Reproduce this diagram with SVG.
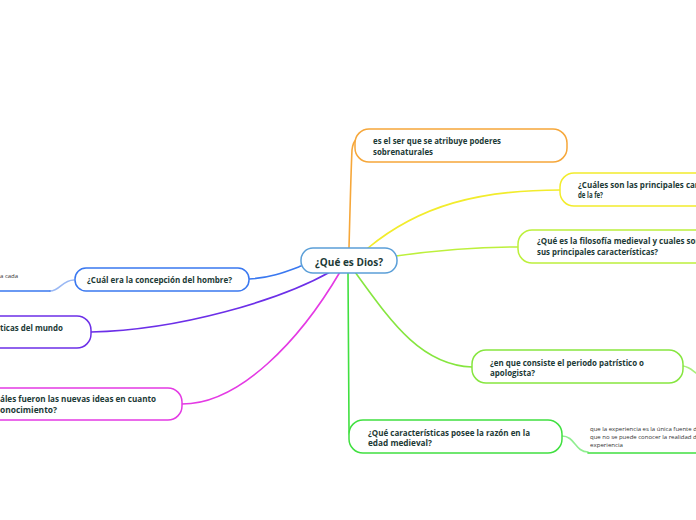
<svg xmlns="http://www.w3.org/2000/svg" width="696" height="520" viewBox="0 0 696 520">
<style>
.t{font-family:"Open Sans","Noto Sans","Liberation Sans",sans-serif;font-weight:700;fill:#1c3a36;font-size:8px}
.m{font-size:11px;font-weight:700}
.s{font-family:"Open Sans","Noto Sans","Liberation Sans",sans-serif;font-size:6px;fill:#333}
.n{fill:#fff;stroke-width:1.5}
.c{fill:none;stroke-width:1.6;stroke-linecap:round}
</style>
<rect width="696" height="520" fill="#fff"/>
<g id="connectors">
<path class="c" stroke="#f6a73a" d="M349,248 C350,210 351,170 352,150 Q353,142 356,140"/>
<path class="c" stroke="#f2ec2c" d="M368,248 C420,205 480,190 560,190"/>
<path class="c" stroke="#bdf03c" d="M396,256 C440,250 480,247 518,247"/>
<path class="c" stroke="#86e63f" d="M355,272 C390,320 420,365 472,367"/>
<path class="c" stroke="#a8f07a" d="M683,366 C690,367 693,371 696,373"/>
<path class="c" stroke="#40e040" d="M348,272 L349,428 Q349,436 351,438"/>
<path class="c" stroke="#90ee90" d="M562,436 C575,436 575,452 588,452"/>
<path class="c" stroke="#40e040" stroke-width="2" d="M588,453 L696,453"/>
<path class="c" stroke="#3a78f0" d="M301,266 C285,272 270,278 249,279"/>
<path class="c" stroke="#9ab8f4" d="M74,280 C62,280 60,291 50,291"/>
<path class="c" stroke="#3a78f0" stroke-width="2" d="M50,291 L0,291"/>
<path class="c" stroke="#6c2fe8" d="M330,272 C280,300 180,330 91,332"/>
<path class="c" stroke="#e43ae4" d="M340,272 C300,340 240,404 182,404"/>
</g>
<g id="n0">
<rect class="n" stroke="#5b9fd8" x="301" y="248" width="96" height="25" rx="12"/>
<text class="t m" x="315" y="266" textLength="68" lengthAdjust="spacingAndGlyphs">¿Qué es Dios?</text>
</g>
<g id="n1">
<rect class="n" stroke="#f6a73a" x="355" y="129" width="212" height="33" rx="14"/>
<text class="t" x="373" y="144" textLength="128" lengthAdjust="spacingAndGlyphs">es el ser que se atribuye poderes</text>
<text class="t" x="373" y="155" textLength="60" lengthAdjust="spacingAndGlyphs">sobrenaturales</text>
</g>
<g id="n2">
<rect class="n" stroke="#f2ec2c" x="560" y="173" width="160" height="33" rx="14"/>
<text class="t" x="578" y="188">¿Cuáles son las principales car</text>
<text class="t" x="578" y="198" textLength="25" lengthAdjust="spacingAndGlyphs">de la fe?</text>
</g>
<g id="n3">
<rect class="n" stroke="#bdf03c" x="518" y="230" width="200" height="33" rx="14"/>
<text class="t" x="537" y="244">¿Qué es la filosofía medieval y cuales son</text>
<text class="t" x="537" y="255" textLength="121" lengthAdjust="spacingAndGlyphs">sus principales características?</text>
</g>
<g id="n4">
<rect class="n" stroke="#86e63f" x="472" y="350" width="211" height="33" rx="14"/>
<text class="t" x="490" y="366" textLength="154" lengthAdjust="spacingAndGlyphs">¿en que consiste el periodo patrístico o</text>
<text class="t" x="490" y="376" textLength="45" lengthAdjust="spacingAndGlyphs">apologista?</text>
</g>
<g id="n5">
<rect class="n" stroke="#40e040" x="349" y="420" width="213" height="33" rx="14"/>
<text class="t" x="368" y="436" textLength="162" lengthAdjust="spacingAndGlyphs">¿Qué características posee la razón en la</text>
<text class="t" x="368" y="446" textLength="64" lengthAdjust="spacingAndGlyphs">edad medieval?</text>
</g>
<g id="n5a">
<text class="s" x="590" y="431">que la experiencia es la única fuente de</text>
<text class="s" x="590" y="439">que no se puede conocer la realidad de</text>
<text class="s" x="590" y="447" textLength="33" lengthAdjust="spacingAndGlyphs">experiencia</text>
</g>
<g id="n6">
<rect class="n" stroke="#3a78f0" x="75" y="268" width="174" height="23" rx="11"/>
<text class="t" x="87" y="283" textLength="145" lengthAdjust="spacingAndGlyphs">¿Cuál era la concepción del hombre?</text>
</g>
<g id="n6a">
<text class="s" x="0" y="278">a cada</text>
</g>
<g id="n7">
<rect class="n" stroke="#6c2fe8" x="-120" y="316" width="211" height="32" rx="14"/>
<text class="t" x="0" y="331" textLength="63" lengthAdjust="spacingAndGlyphs">ticas del mundo</text>
</g>
<g id="n8">
<rect class="n" stroke="#e43ae4" x="-40" y="388" width="222" height="32" rx="14"/>
<text class="t" x="0" y="402" textLength="156" lengthAdjust="spacingAndGlyphs">áles fueron las nuevas ideas en cuanto</text>
<text class="t" x="0" y="413" textLength="57" lengthAdjust="spacingAndGlyphs">onocimiento?</text>
</g>
</svg>
